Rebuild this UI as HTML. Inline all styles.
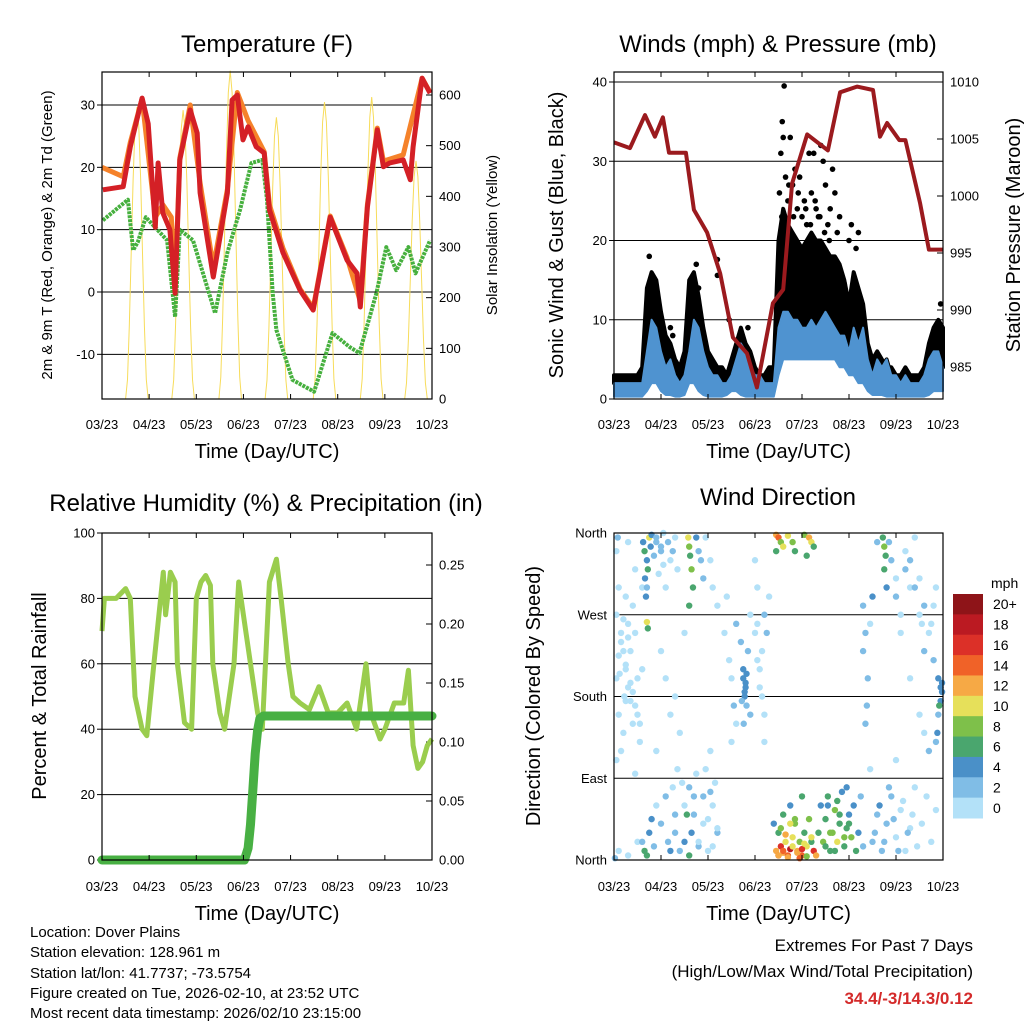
<!DOCTYPE html>
<html><head><meta charset="utf-8">
<style>
html,body{margin:0;padding:0;background:#fff;}
svg{display:block;font-family:"Liberation Sans",sans-serif;}
</style></head>
<body>
<svg id="chart" width="1024" height="1024" viewBox="0 0 1024 1024" xmlns="http://www.w3.org/2000/svg">
<rect width="1024" height="1024" fill="#fff"/>
<g id="p1"></g>
<g id="p2"></g>
<g id="p3"></g>
<g id="p4"></g>
<g font-size="15" fill="#000">
<text x="30" y="937">Location: Dover Plains</text>
<text x="30" y="957">Station elevation: 128.961 m</text>
<text x="30" y="978">Station lat/lon: 41.7737; -73.5754</text>
<text x="30" y="998">Figure created on Tue, 2026-02-10, at 23:52 UTC</text>
<text x="30" y="1018">Most recent data timestamp: 2026/02/10 23:15:00</text>
</g>
<g text-anchor="end">
<text x="973" y="951" font-size="17">Extremes For Past 7 Days</text>
<text x="973" y="977" font-size="17">(High/Low/Max Wind/Total Precipitation)</text>
<text x="973" y="1004" font-size="17" font-weight="bold" fill="#d42a2a">34.4/-3/14.3/0.12</text>
</g>
</svg>
<script>
// ---------- data ----------
const dayLabels = ["03/23","04/23","05/23","06/23","07/23","08/23","09/23","10/23"];
const tDays = [0.02,0.45,0.6,0.85,0.98,1.13,1.19,1.29,1.44,1.55,1.65,1.87,2.02,2.08,2.36,2.66,2.76,2.87,2.99,3.1,3.27,3.44,3.55,3.84,4.2,4.48,4.84,5.2,5.41,5.48,5.63,5.84,5.97,6.1,6.39,6.54,6.6,6.79,6.96];
const tVals = [16.4,16.9,23.3,31.1,27,10.4,20.7,12.7,10,-0.2,21.2,29.2,25.5,15.9,2.4,15.9,30.8,31.6,24.4,26.5,23.3,22.3,13.2,6.3,0.3,-2.9,12,5.1,3,-2.4,13.6,26,20.1,20.7,21.2,18,23.3,34.3,31.9];
const t9Days = [0.0,0.45,0.6,0.85,1.13,1.29,1.47,1.55,1.65,1.87,2.08,2.36,2.66,2.87,3.1,3.44,3.55,3.84,4.2,4.48,4.84,5.2,5.48,5.63,5.84,5.97,6.39,6.79,6.96];
const t9Vals = [20,18.5,24,31,12,14,12,1,21.5,30,17.5,4,16.5,32,27.5,22.5,14,7,0.5,-2.6,12.2,5.5,-1.5,14,26.3,21,22,34.3,32];
const tdDays = [0.02,0.55,0.66,0.76,0.93,1.38,1.55,1.65,1.93,2.4,2.66,2.93,3.17,3.4,3.5,3.62,3.7,4.04,4.5,4.89,5.25,5.46,5.82,6.03,6.24,6.5,6.65,6.96];
const tdVals = [11.5,14.8,6.7,8,12,8.3,-4,10,8.3,-3.4,6.3,13.2,20.7,21.2,14.8,-0.2,-6.1,-14.1,-16,-6.6,-8.8,-9.8,-0.2,7.2,3.5,7.2,3,8.3];
const solarPeakDays = [0.74,1.72,2.72,3.7,4.72,5.72,6.66];
const solarPeakVals = [576,570,648,556,586,596,470];
const presDays = [-0.02,0.34,0.66,0.87,1.04,1.17,1.53,1.7,1.98,2.26,2.53,2.83,3.04,3.38,3.6,3.79,4.11,4.55,4.81,5.17,5.51,5.66,5.81,6.07,6.2,6.51,6.7,6.98,7.0];
const presVals = [1004.7,1004.2,1007.1,1005.2,1006.9,1003.8,1003.8,998.8,996.8,993.2,987.6,986.2,983.2,990.6,991.8,1001.1,1005.4,1004.0,1009.1,1009.6,1009.3,1005.2,1006.4,1004.9,1004.9,999.4,995.3,995.3,995.3];
const windHigh = [2,2,2,2,2,2,2,6,10,9,6,4,5,3,2,3,6,10,9,6,4,3,3,2,2,3,5,7,6,4,3,3,2,2,2,9,11,11,10,10,9,9,10,9,10,11,10,9,8,8,6,9,7,9,5,3,5,4,5,3,3,2,3,2,2,2,3,5,6,6,4];
const windLow  = [0.3,0.3,0.3,0.3,0.3,0.3,0.3,1,2,2,1,0.5,0.5,0.3,0.3,0.5,2,2,1,0.5,0.3,0.3,0.3,0.3,0.5,1,1,0.5,0.3,0.3,0.3,0.3,0.3,0.3,0.3,3,5,5,5,5,5,5,5,5,5,5,5,5,4,4,3,3,2,2,1,0.5,0.5,0.5,0.3,0.3,0.3,0.3,0.3,0.3,0.3,0.3,0.3,0.5,1,1,1];
const gustHigh = [3,3,3,3,3,3,4,14,16,15,11,8,7,5,4,6,15,16,13,9,6,5,4,4,3,5,7,9,7,6,4,3,3,4,4,20,24,22,21,20,19,20,21,20,20,19,18,18,17,15,12,16,14,12,7,5,6,5,4,4,3,3,4,3,3,3,4,7,9,10,9];
const gustDotDays = [3.62,3.55,3.6,2.2,2.2,4.9,3.85,4.5,4.7,3.58,4.45,0.75,0.85,1.75,1.8,6.85,6.95,0.45,2.85,1.2,1.25,2.45,4.15,4.65,4.25,4.4,3.75,3.95,3.52,3.65,3.7,3.8,3.9,4.0,4.05,4.1,4.2,4.3,4.35,4.55,4.6,4.75,4.8,5.0,5.05,5.15,5.2,3.57,3.67,3.72,3.82,3.92,4.08,4.18,4.28,4.38,4.48,4.58];
const gustDotVals = [39.5,31,33,15.6,17.6,14.5,29,27,26,35,30,18,14,17,14,9,12,2.5,9,9,8,10,31,29,31,32,33,28,26,28,25,27,24,23,25,22,26,24,23,22,24,21,23,20,22,19,21,23,22,27,23,26,24,22,25,23,21,20];
const rhDays = [0,0.05,0.3,0.5,0.6,0.7,0.85,0.95,1.1,1.3,1.35,1.45,1.55,1.6,1.75,1.9,2.0,2.1,2.2,2.3,2.35,2.5,2.6,2.8,2.9,3.0,3.15,3.3,3.4,3.55,3.7,3.8,3.95,4.05,4.2,4.4,4.6,4.8,5.0,5.2,5.4,5.6,5.7,5.9,6.0,6.2,6.4,6.5,6.6,6.7,6.8,6.9,7.0];
const rhVals = [70,80,80,83,80,50,40,38,60,88,75,88,85,60,42,40,80,85,87,84,60,45,40,60,85,75,60,45,40,85,92,80,60,50,48,46,53,45,45,48,40,60,45,37,40,48,48,58,35,28,30,35,37];
const prDays = [0,3.02,3.1,3.15,3.2,3.25,3.3,3.35,3.42,7.0];
const prVals = [0,0,0.01,0.03,0.06,0.09,0.11,0.12,0.122,0.122];
const wdDays = [0.05,0.1,0.15,0.2,0.25,0.3,0.35,0.1,0.2,0.3,0.4,0.45,0.5,0.05,0.15,0.25,0.35,0.12,0.22,0.4,0.55,0.6,0.08,0.3,0.45,0.1,0.3,0.5,0.02,
0.62,0.65,0.7,0.72,0.66,0.7,0.68,0.75,0.7,0.72,0.78,0.8,0.85,0.9,0.95,1.0,1.05,1.1,
0.6,0.65,0.7,0.75,0.8,0.85,0.9,1.0,1.1,1.15,1.2,1.3,1.25,1.35,
1.0,1.2,1.1,0.9,1.3,1.5,1.4,
1.58,1.6,1.62,1.65,1.68,1.6,1.75,1.8,1.85,1.9,1.95,2.05,2.1,2.2,
1.5,1.55,1.6,1.65,1.7,1.8,1.9,2.0,2.1,2.15,2.2,1.95,2.05,
2.4,2.35,2.45,2.5,2.55,2.6,2.5,2.6,2.7,2.75,2.8,2.78,2.82,2.76,2.85,2.9,3.0,3.05,3.1,3.15,3.2,3.25,3.3,3.2,3.0,3.05,2.9,
3.45,3.5,3.55,3.6,3.45,3.7,3.8,3.85,4.05,4.15,4.2,4.25,4.1,
3.45,3.5,3.55,3.6,3.65,3.7,3.75,3.8,3.5,3.85,3.9,3.95,4.0,4.05,4.1,4.15,4.2,4.25,4.3,3.4,3.6,3.75,4.35,4.4,4.45,4.5,4.55,4.6,4.65,4.7,4.75,4.8,4.85,4.9,4.95,5.0,5.05,5.1,5.15,5.2,5.25,5.3,4.0,
5.72,5.75,5.78,5.75,5.8,5.85,5.9,6.0,5.6,6.2,6.3,6.4,
5.3,5.35,5.3,5.4,5.38,5.35,5.45,5.5,
5.5,5.6,5.7,5.8,5.9,6.0,6.1,6.2,6.3,6.4,5.45,6.0,
6.1,6.3,6.5,6.6,6.7,6.8,6.75,6.6,6.85,6.5,6.9,6.95,6.98,6.92,7.0,6.88,6.85,
0.05,0.15,0.25,0.35,0.45,0.55,0.1,0.2,0.3,0.4,0.5,0.6,0.05,0.25,0.45,
0.9,1.0,1.05,1.15,1.2,1.25,1.3,1.35,
1.3,1.4,1.5,1.6,1.7,1.8,1.9,2.0,2.1,2.2,1.45,1.75,2.05,
2.75,2.8,2.78,2.82,2.72,3.1,3.15,3.2,3.05,
3.5,3.6,3.7,3.8,3.9,4.0,4.1,4.2,3.55,3.65,3.75,3.85,3.95,4.05,4.5,4.6,4.7,4.8,4.9,5.0,4.55,4.75,4.95,
6.0,6.1,6.2,6.3,6.5,6.6,6.7,6.8,6.9,6.95,6.4,6.55,
5.55,5.65,5.75,5.85,5.95,6.05,6.15,6.25,6.35,6.45,6.55,6.65,6.75,6.85];
const wdDirs = [340,300,250,230,210,190,175,160,140,260,280,320,200,110,120,290,230,205,180,150,130,300,355,350,95,10,5,20,2,
350,340,330,320,310,300,290,355,262,255,345,358,335,350,315,340,325,300,
20,10,5,30,45,15,60,40,70,20,10,50,80,100,
230,160,200,120,180,250,140,
355,345,335,320,300,280,355,340,330,310,355,330,300,280,
20,50,5,30,70,15,40,10,60,85,30,100,120,
290,250,220,200,170,150,130,260,240,210,195,180,170,150,230,270,250,220,210,180,160,250,290,130,330,300,160,
358,355,350,345,340,357,350,340,358,355,350,345,335,
10,5,15,8,20,5,12,25,30,40,10,20,5,30,15,45,20,10,5,40,50,60,30,60,20,45,70,10,30,55,20,40,75,15,35,50,25,60,10,30,70,15,70,
355,345,335,320,300,350,330,310,350,340,300,355,
280,250,230,200,170,150,260,290,
20,50,10,40,70,25,55,10,35,80,100,110,
250,200,160,140,120,280,260,230,300,270,160,175,185,170,195,140,130,
270,240,215,195,170,150,225,265,245,185,160,210,200,175,250,
355,345,360,350,330,340,355,320,
30,10,60,80,50,20,70,45,15,35,85,95,75,
200,190,185,205,175,190,230,270,260,
5,10,3,15,8,12,4,25,35,28,40,45,2,18,15,30,10,50,25,40,60,65,80,
290,270,320,330,310,280,250,220,200,190,300,260,
30,60,20,80,45,10,65,30,50,15,40,70,20,55];
const wdSpeeds = [0,1,0,0,1,0,0,0,0,0,0,1,0,0,0,0,0,0,0,1,0,1,2,0,1,0,1,0,2,
5,6,4,6,4,3,5,10,10,6,4,4,2,2,1,2,1,0,
3,6,6,4,4,2,1,2,3,2,4,2,1,0,
0,0,1,0,0,0,0,
10,8,6,8,6,6,4,3,3,2,1,0,1,0,
5,6,7,4,3,2,1,0,1,0,2,0,1,
1,0,1,1,2,1,0,2,3,4,4,4,3,2,2,1,0,1,0,1,1,2,1,0,1,0,2,
12,14,8,10,6,10,8,6,8,12,10,6,6,
12,14,16,12,10,14,18,10,6,8,12,8,14,6,10,8,6,16,12,4,6,4,6,4,8,6,6,6,8,8,10,6,4,6,6,4,8,4,6,4,3,2,6,
6,8,6,6,4,2,2,1,2,0,1,1,
2,2,2,2,3,2,1,4,
3,2,2,3,2,1,1,0,0,1,1,0,
1,0,1,1,2,0,1,2,0,1,3,4,4,6,4,4,3,
0,0,0,0,0,0,0,0,0,0,0,0,0,0,0,
2,3,1,2,1,2,1,0,
3,2,1,2,3,1,2,1,0,0,1,0,2,
4,5,4,4,3,1,1,2,1,
12,14,12,10,12,16,8,10,8,12,10,8,14,10,6,8,6,6,8,6,4,6,4,
2,1,2,3,1,2,1,2,4,5,2,1,
3,4,3,2,3,2,1,2,1,1,0,1,0,0];
const speedBinLabels = ["20+","18","16","14","12","10","8","6","4","2","0"];
const speedColors = ["#b3e1f8","#80bde6","#4a90c8","#4aa66e","#7ec04a","#e6e05a","#f6a945","#f06228","#dc3028","#bb1a22","#8e1418"];

// ---------- helpers ----------
const NS = "http://www.w3.org/2000/svg";
function mk(parent, tag, attrs, text){
  const e = document.createElementNS(NS, tag);
  for (const k in attrs) e.setAttribute(k, attrs[k]);
  if (text !== undefined) e.textContent = text;
  parent.appendChild(e);
  return e;
}
function makeX(x0, x1){ return d => x0 + (x1 - x0) * d / 7; }
function makeY(y0, y1, v0, v1){ return v => y0 + (y1 - y0) * (v - v0) / (v1 - v0); }
function pathFrom(xs, ys, fx, fy){
  return xs.map((d,i)=> (i? "L":"M") + fx(d).toFixed(1) + "," + fy(ys[i]).toFixed(1)).join("");
}
function bandFrom(hi, lo, fx, fy){
  let s = "";
  hi.forEach((v,i)=>{ s += (i? "L":"M") + fx(i*0.1).toFixed(1) + "," + fy(v).toFixed(1); });
  for (let i = lo.length-1; i >= 0; i--) s += "L" + fx(i*0.1).toFixed(1) + "," + fy(lo[i]).toFixed(1);
  return s + "Z";
}
function frame(g, L, T, R, B){
  const f = mk(g, "rect", {x:L, y:T, width:R-L, height:B-T, fill:"none", stroke:"#000", "stroke-width":1.2});
  
  
}
function xAxis(g, L, R, T, B, labY, titleY){
  const fx = makeX(L, R);
  for (let i = 0; i < dayLabels.length; i++){
    const x = fx(i);
    mk(g, "line", {x1:x, y1:B, x2:x, y2:B-5, stroke:"#000"});
    mk(g, "line", {x1:x, y1:T, x2:x, y2:T+5, stroke:"#000"});
    const t = mk(g, "text", {x:x, y:labY, "font-size":13, "text-anchor":"middle"}, dayLabels[i]);
    
    
  }
  const tt = mk(g, "text", {x:(L+R)/2, y:titleY, "font-size":20, "text-anchor":"middle"}, "Time (Day/UTC)");
  
  
}
function leftTicks(g, L, R, vals, fy, fmt, grid){
  vals.forEach(v=>{
    const y = fy(v);
    if (grid) mk(g, "line", {x1:L, y1:y, x2:R, y2:y, stroke:"#000", "stroke-width":1});
    mk(g, "line", {x1:L, y1:y, x2:L-5, y2:y, stroke:"#000"});
    const t = mk(g, "text", {x:L-7, y:y+4.5, "font-size":13, "text-anchor":"end"}, fmt(v));
    
    
  });
}
function rightTicks(g, R, vals, fy, fmt){
  vals.forEach(v=>{
    const y = fy(v);
    mk(g, "line", {x1:R, y1:y, x2:R-6, y2:y, stroke:"#000"});
    const t = mk(g, "text", {x:R+7, y:y+4.5, "font-size":13, "text-anchor":"start"}, fmt(v));
    
    
  });
}
function vTitle(g, x, y, size, txt, name){
  const t = mk(g, "text", {x:x, y:y, "font-size":size, "text-anchor":"middle", transform:`rotate(-90 ${x} ${y})`}, txt);
  
  
}
function title(g, x, y, txt, name){
  const t = mk(g, "text", {x:x, y:y, "font-size":24, "text-anchor":"middle"}, txt);
  
  
}

// ---------- Panel 1: Temperature ----------
(function(){
  const g = document.getElementById("p1");
  const L=102,R=432,T=72,B=399;
  const fx = makeX(L,R);
  const fy = makeY(292,105,0,30);
  const fs = makeY(399,95,0,600);
  title(g, 267, 52, "Temperature (F)", "temperature-title");
  leftTicks(g, L, R, [-10,0,10,20,30], fy, v=>String(v), true);
  rightTicks(g, R, [0,100,200,300,400,500,600], fs, v=>String(v));
  const sd=[], sv=[];
  solarPeakDays.forEach((pd,i)=>{
    for (let k=-6;k<=6;k++){ const dd = pd + k*0.04; const w = Math.cos(k/6*Math.PI/2); sd.push(dd); sv.push(Math.max(0, solarPeakVals[i]*w*w)); }
  });
  const sp = mk(g,"path",{d:pathFrom(sd,sv,fx,fs),fill:"none",stroke:"#f7dc5a","stroke-width":1});
  
  
  const td = mk(g,"path",{d:pathFrom(tdDays,tdVals,fx,fy),fill:"none",stroke:"#46b03e","stroke-width":4,"stroke-dasharray":"3 1","stroke-linejoin":"round"});
  
  
  const o = mk(g,"path",{d:pathFrom(t9Days,t9Vals,fx,fy),fill:"none",stroke:"#f5822a","stroke-width":5,"stroke-linejoin":"round"});
  
  
  const r = mk(g,"path",{d:pathFrom(tDays,tVals,fx,fy),fill:"none",stroke:"#d42026","stroke-width":5,"stroke-linejoin":"round"});
  
  
  frame(g,L,T,R,B);
  xAxis(g,L,R,T,B,429,458);
  vTitle(g, 52, 235, 15, "2m & 9m T (Red, Orange) & 2m Td (Green)", "left-y-axis-title");
  vTitle(g, 497, 235, 15, "Solar Insolation (Yellow)", "right-y-axis-title");
})();

// ---------- Panel 2: Winds ----------
(function(){
  const g = document.getElementById("p2");
  const L=614,R=943,T=72,B=399;
  const fx = makeX(L,R);
  const fy = makeY(399,82,0,40);
  const fp = makeY(367,82,985,1010);
  title(g, 778, 52, "Winds (mph) & Pressure (mb)", "winds-title");
  leftTicks(g, L, R, [0,10,20,30,40], fy, v=>String(v), true);
  rightTicks(g, R, [985,990,995,1000,1005,1010], fp, v=>String(v));
  const gb = mk(g,"path",{d:bandFrom(gustHigh,windHigh,fx,fy),fill:"#000",stroke:"#000","stroke-width":4,"stroke-linejoin":"round"});
  
  
  gustDotDays.forEach((d,i)=>{
    const c = mk(g,"circle",{cx:fx(d),cy:fy(gustDotVals[i]),r:2.8,fill:"#000"});
    
    
  });
  const wb = mk(g,"path",{d:bandFrom(windHigh,windLow,fx,fy),fill:"#4f93d0",stroke:"#4f93d0","stroke-width":2,"stroke-linejoin":"round"});
  
  
  const pp = mk(g,"path",{d:pathFrom(presDays.map(d=>Math.max(0,Math.min(7,d))),presVals,fx,fp),fill:"none",stroke:"#9b1a1e","stroke-width":4,"stroke-linejoin":"round"});
  
  
  frame(g,L,T,R,B);
  xAxis(g,L,R,T,B,429,458);
  vTitle(g, 563, 235, 20, "Sonic Wind & Gust (Blue, Black)", "left-y-axis-title");
  vTitle(g, 1020, 235, 20, "Station Pressure (Maroon)", "right-y-axis-title");
})();

// ---------- Panel 3: RH & precip ----------
(function(){
  const g = document.getElementById("p3");
  const L=102,R=432,T=533,B=860;
  const fx = makeX(L,R);
  const fy = makeY(860,533,0,100);
  const fr = makeY(860,565,0,0.25);
  title(g, 266, 511, "Relative Humidity (%) & Precipitation (in)", "humidity-title");
  leftTicks(g, L, R, [0,20,40,60,80,100], fy, v=>String(v), true);
  rightTicks(g, R, [0,0.05,0.1,0.15,0.2,0.25], fr, v=>v.toFixed(2));
  const rh = mk(g,"path",{d:pathFrom(rhDays,rhVals,fx,fy),fill:"none",stroke:"#9acd4e","stroke-width":5,"stroke-linejoin":"round"});
  
  
  const pr = mk(g,"path",{d:pathFrom(prDays,prVals,fx,fr),fill:"none",stroke:"#48b043","stroke-width":9,"stroke-linejoin":"round","stroke-linecap":"round"});
  
  
  frame(g,L,T,R,B);
  xAxis(g,L,R,T,B,891,920);
  vTitle(g, 46, 696, 20, "Percent & Total Rainfall", "left-y-axis-title");
})();

// ---------- Panel 4: Wind direction ----------
(function(){
  const g = document.getElementById("p4");
  const L=614,R=943,T=533,B=860;
  const fx = makeX(L,R);
  const fy = makeY(860,533,0,360);
  title(g, 778, 505, "Wind Direction", "wind-direction-title");
  const dirVals=[0,90,180,270,360], dirNames=["North","East","South","West","North"];
  dirVals.forEach((v,i)=>{
    const y = fy(v);
    mk(g,"line",{x1:L,y1:y,x2:R,y2:y,stroke:"#000"});
    const t = mk(g,"text",{x:L-7,y:y+4.5,"font-size":13,"text-anchor":"end"},dirNames[i]);
    
    
  });
  wdDays.forEach((d,i)=>{
    const bin = Math.min(10, Math.floor(wdSpeeds[i]/2));
    const c = mk(g,"circle",{cx:fx(Math.min(6.98,d)),cy:fy(wdDirs[i]),r:3.2,fill:speedColors[bin]});
    
    
  });
  frame(g,L,T,R,B);
  xAxis(g,L,R,T,B,891,920);
  vTitle(g, 540, 696, 20, "Direction (Colored By Speed)", "left-y-axis-title");
  const cb = mk(g,"g",{});
  
  
  const bh = (818-594)/11;
  speedBinLabels.forEach((lab,i)=>{
    const y = 594 + i*bh;
    const r = mk(cb,"rect",{x:953,y:y,width:30,height:bh+0.5,fill:speedColors[10-i]});
    
    
    const t = mk(cb,"text",{x:993,y:y+bh/2+5,"font-size":14},lab);
    
    
  });
  const u = mk(cb,"text",{x:991,y:588,"font-size":14},"mph");
  
  
})();
</script>
</body></html>
